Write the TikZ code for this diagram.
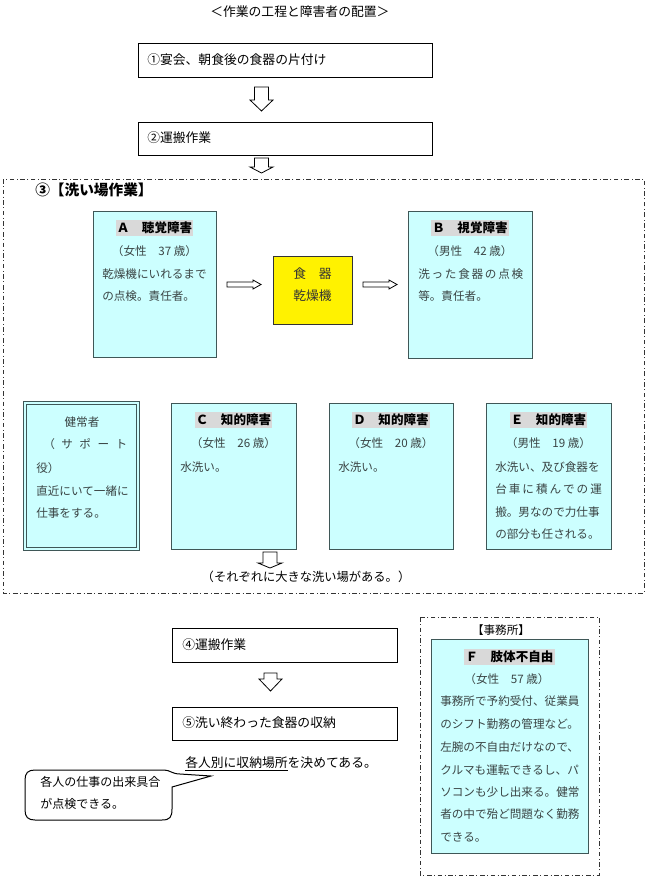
\documentclass[tikz,border=0pt]{standalone}
\usepackage{fontspec}
\setmainfont{Noto Sans CJK JP}
\usetikzlibrary{fit}
\definecolor{boxfill}{HTML}{CCFFFF}
\definecolor{boxline}{HTML}{3F5757}
\definecolor{hl}{HTML}{D9D9D9}
\definecolor{bodytxt}{HTML}{3A4444}
\definecolor{frameln}{HTML}{333333}
\tikzset{
  plainbox/.style={draw=black,line width=0.75pt,fill=white,inner sep=0pt},
  cyanbox/.style={draw=boxline,line width=0.75pt,fill=boxfill,inner sep=0pt},
  yellowbox/.style={draw=frameln,line width=0.75pt,fill=yellow,inner sep=0pt},
  dblbox/.style={draw=boxline,line width=0.6pt,double=boxfill,double distance=1.1pt,fill=boxfill,inner sep=0pt},
  frameline/.style={draw=frameln,line width=0.75pt,dash pattern=on 3.4pt off 1.9pt on 0.75pt off 1.9pt},
  txt/.style={inner sep=0pt,anchor=west,font=\fontsize{9.6}{11}\selectfont,text=black},
  body/.style={inner sep=0pt,anchor=west,font=\fontsize{8.7}{10}\selectfont,text=bodytxt},
  sub/.style={inner sep=0pt,font=\fontsize{8.7}{10}\selectfont,text=bodytxt},
  ttl/.style={inner xsep=1pt,inner ysep=1.2pt,fill=hl,font=\bfseries\fontsize{9.4}{11}\selectfont,text=black},
  arrowline/.style={draw=black,line width=0.6pt,fill=white},
  pics/darrow/.style args={#1/#2/#3/#4}{code={
    \path[arrowline] (-#1,0) -- (#1,0) -- (#1,#2) -- (#3,#2) -- (0,{#2+#4}) -- (-#3,#2) -- (-#1,#2) -- cycle;}},
  pics/rarrow/.style args={#1/#2/#3/#4}{code={
    \path[arrowline] (0,-#1) -- (#2,-#1) -- (#2,-#3) -- ({#2+#4},0) -- (#2,#3) -- (#2,#1) -- (0,#1) -- cycle;}},
}
\begin{document}
\begin{tikzpicture}[x=0.75pt,y=-0.75pt]
\useasboundingbox (0,0) rectangle (648,879);

% title
\node[txt] (title) at (210,12) {＜作業の工程と障害者の配置＞};

% step 1, 2
\node[plainbox,fit={(138,43)(432,77)}] (b1) {};
\node[txt] (t1) at (147,60) {①宴会、朝食後の食器の片付け};
\pic at (261.5,87) {darrow=7/13/11.5/11};
\node[plainbox,fit={(138,122)(432,155)}] (b2) {};
\node[txt] (t2) at (147,138) {②運搬作業};
\pic at (261.5,158) {darrow=7/9/11.5/6};

% washing area frame
\draw[frameline] (3,179) rectangle (644,593);
\node[txt,font=\bfseries\fontsize{11}{13}\selectfont] (t3) at (35,190) {③【洗い場作業】};

% A
\node[cyanbox,fit={(93,211)(216,357)}] (A) {};
\node[ttl] (Attl) at (154.5,228) {Ａ　聴覚障害};
\node[sub] (Asub) at (154.5,251) {（女性　37 歳）};
\node[body] (A1) at (102,274) {乾燥機にいれるまで};
\node[body] (A2) at (102,296) {の点検。責任者。};

\pic at (227,284.5) {rarrow=2.5/26/4.5/8};

% dryer
\node[yellowbox,fit={(273,256)(352,324)}] (Dry) {};
\node[sub,font=\fontsize{9.6}{11}\selectfont,text=frameln] (Dry1) at (312.5,274) {食　器};
\node[sub,font=\fontsize{9.6}{11}\selectfont,text=frameln] (Dry2) at (312.5,296) {乾燥機};

\pic at (363,284.5) {rarrow=2.5/26/4.5/8};

% B
\node[cyanbox,fit={(408,211)(532,358)}] (B) {};
\node[ttl] (Bttl) at (470,228) {Ｂ　視覚障害};
\node[sub] (Bsub) at (470,251) {（男性　42 歳）};
\node[body] (B1) at (418,274) {\hbox to 78.75pt{洗\hfill っ\hfill た\hfill 食\hfill 器\hfill の\hfill 点\hfill 検}};
\node[body] (B2) at (418,296) {等。責任者。};

% healthy supporter
\node[dblbox,fit={(25,403)(138,549)}] (H) {};
\node[sub] (H0) at (82,422) {健常者};
\node[body] (H1) at (43,444) {\hbox to 63pt{（\hfill サ\hfill ポ\hfill ー\hfill ト}};
\node[body] (H2) at (36,468) {役）};
\node[body] (H3) at (36,491) {直近にいて一緒に};
\node[body] (H4) at (36,513) {仕事をする。};

% C
\node[cyanbox,fit={(171,403)(296,549)}] (C) {};
\node[ttl] (Cttl) at (233.5,420) {Ｃ　知的障害};
\node[sub] (Csub) at (233.5,443) {（女性　26 歳）};
\node[body] (C1) at (180,467) {水洗い。};

% D
\node[cyanbox,fit={(329,403)(453,549)}] (D) {};
\node[ttl] (Dttl) at (391,420) {Ｄ　知的障害};
\node[sub] (Dsub) at (391,443) {（女性　20 歳）};
\node[body] (D1) at (338,467) {水洗い。};

% E
\node[cyanbox,fit={(486,403)(611,549)}] (E) {};
\node[ttl] (Ettl) at (548.5,420) {Ｅ　知的障害};
\node[sub] (Esub) at (548.5,443) {（男性　19 歳）};
\node[body] (E1) at (495,467) {水洗い、及び食器を};
\node[body] (E2) at (495,489) {\hbox to 80pt{台\hfill 車\hfill に\hfill 積\hfill ん\hfill で\hfill の\hfill 運}};
\node[body] (E3) at (495,512) {搬。男なので力仕事};
\node[body] (E4) at (495,534) {の部分も任される。};

\pic at (270,552) {darrow=7/11/12/5};
\node[txt,anchor=center,font=\fontsize{9.2}{11}\selectfont] (wash) at (306,577) {（それぞれに大きな洗い場がある。）};

% step 4, 5
\node[plainbox,fit={(172,628)(397,662)}] (b4) {};
\node[txt] (t4) at (182,645) {④運搬作業};
\pic at (270.5,673) {darrow=6.5/6/11.5/12};
\node[plainbox,fit={(172,707)(397,740)}] (b5) {};
\node[txt] (t5) at (182,723) {⑤洗い終わった食器の収納};
\node[txt] (note) at (185,764) {\underline{各人別に収納場所}を決めてある。};

% callout
\path[draw=black,line width=0.75pt,fill=white]
  (35,770) -- (164,770) .. controls (170,770) and (172,774) .. (180,774)
  -- (211,776) -- (172,787) -- (172,809)
  .. controls (172,817) and (170,820) .. (162,820) -- (35,820)
  .. controls (28,820) and (25,817) .. (25,810) -- (25,780)
  .. controls (25,773) and (28,770) .. (35,770) -- cycle;
\node[txt,font=\fontsize{9}{11}\selectfont] (co1) at (40,782) {各人の仕事の出来具合};
\node[txt,font=\fontsize{9}{11}\selectfont] (co2) at (40,804) {が点検できる。};

% office
\draw[frameline] (420,617) rectangle (599,875);
\node[sub,text=black] (office) at (501,630) {【事務所】};
\node[cyanbox,fit={(431,639)(588,853)}] (F) {};
\node[ttl] (Fttl) at (509.5,657) {Ｆ　肢体不自由};
\node[sub] (Fsub) at (507,679) {（女性　57 歳）};
\node[body] (F1) at (440,701) {事務所で予約受付、従業員};
\node[body] (F2) at (440,724) {のシフト勤務の管理など。};
\node[body] (F3) at (440,747) {左腕の不自由だけなので、};
\node[body] (F4) at (440,770) {クルマも運転できるし、パ};
\node[body] (F5) at (440,792) {ソコンも少し出来る。健常};
\node[body] (F6) at (440,814) {者の中で殆ど問題なく勤務};
\node[body] (F7) at (440,837) {できる。};
\end{tikzpicture}
\end{document}
